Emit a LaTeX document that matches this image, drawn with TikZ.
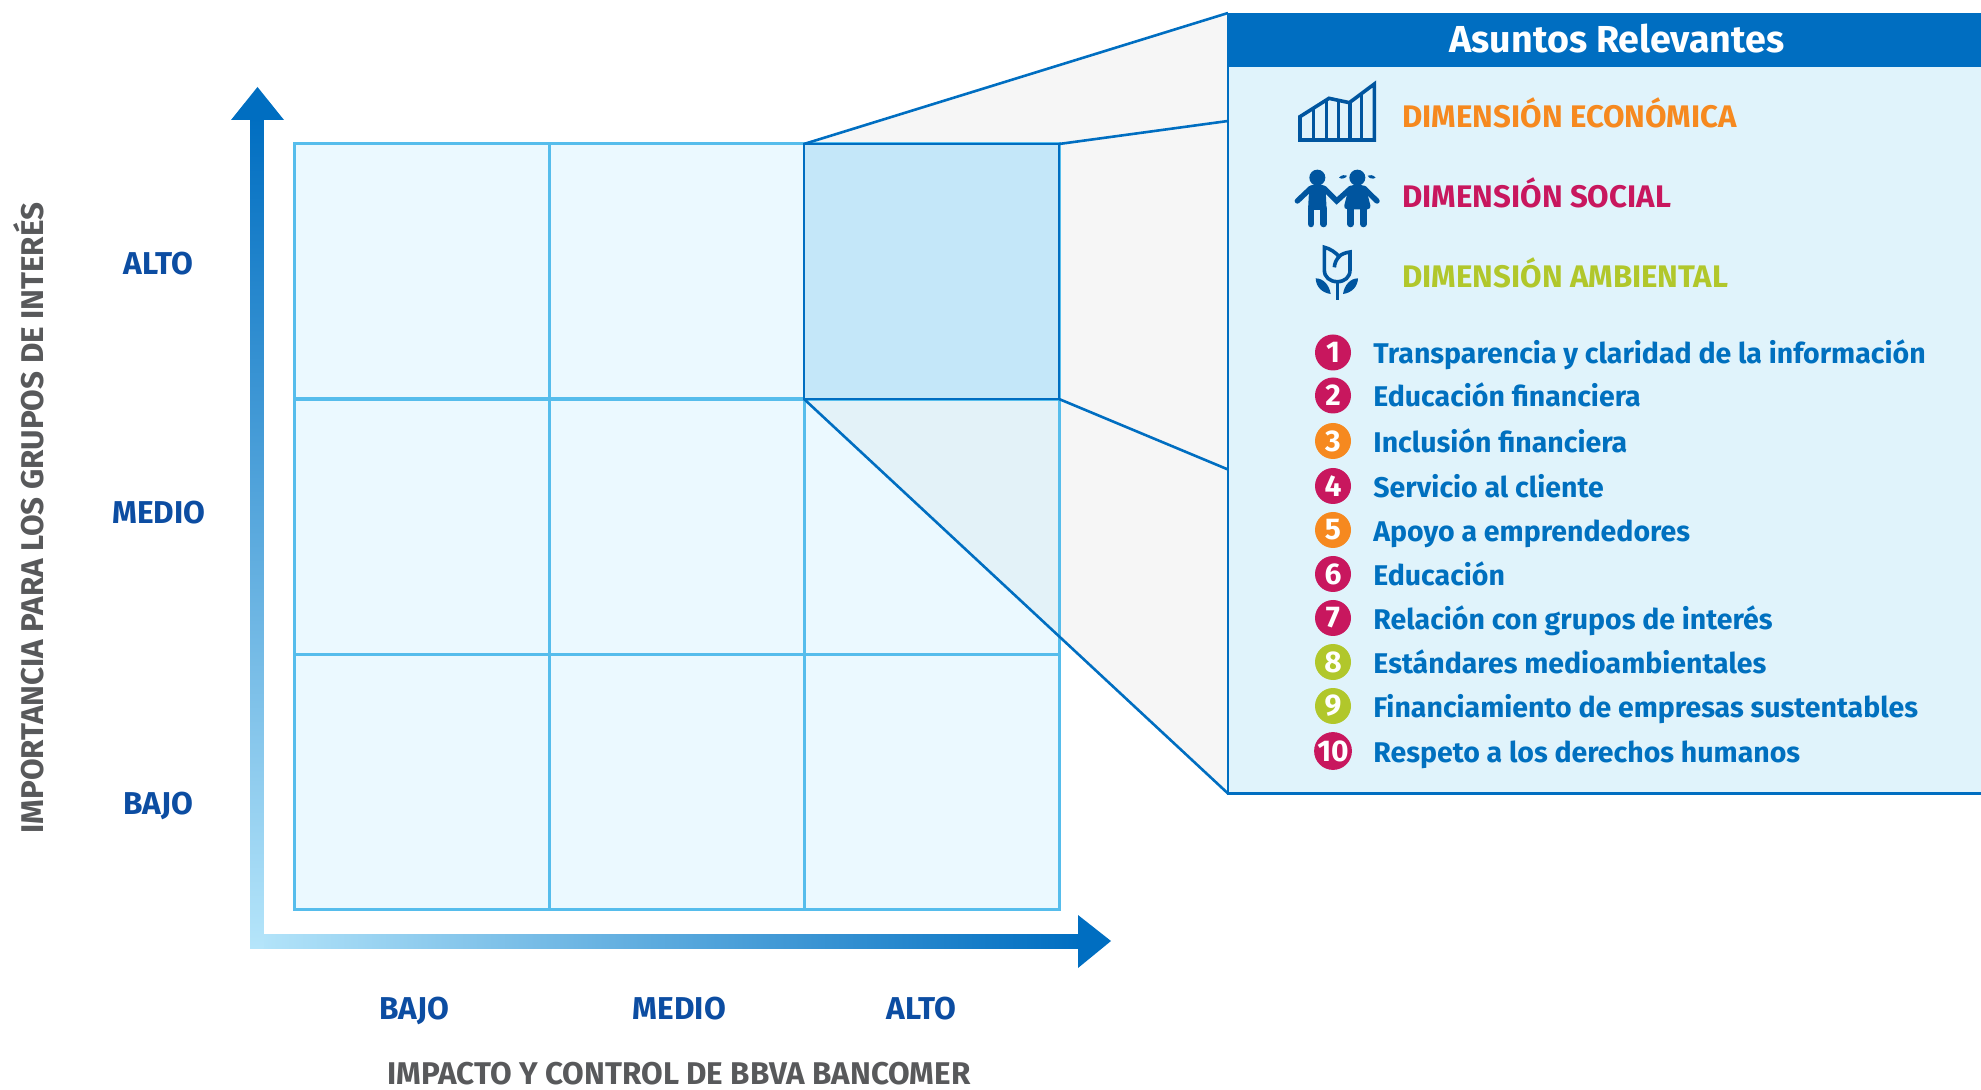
\documentclass[tikz,border=0pt]{standalone}
\usepackage{fontspec}
\setmainfont{Fira Sans}
\usetikzlibrary{calc}
\definecolor{gridline}{HTML}{56BDEC}
\definecolor{cellfill}{HTML}{EBF9FF}
\definecolor{cellhi}{HTML}{C4E7F9}
\definecolor{wedge}{HTML}{E3F2F8}
\definecolor{greyf}{HTML}{F6F6F6}
\definecolor{mainblue}{HTML}{006EC1}
\definecolor{lightblue}{HTML}{B5E5FA}
\definecolor{panelf}{HTML}{E0F3FB}
\definecolor{darkblue}{HTML}{0C4DA2}
\definecolor{iconblue}{HTML}{00559F}
\definecolor{listblue}{HTML}{0070BF}
\definecolor{axisgrey}{HTML}{58595B}
\definecolor{corange}{HTML}{F6891F}
\definecolor{cmagenta}{HTML}{C8175E}
\definecolor{cgreen}{HTML}{B1C72B}
\tikzset{
 cellbox/.style={fill=cellfill,minimum width=255*0.5pt,minimum height=255*0.5pt,inner sep=0pt,outer sep=0pt,anchor=north west},
 cellline/.style={draw=gridline,line width=1.5pt},
 funnel/.style={draw=mainblue,line width=1.3pt},
 axislabel/.style={font=\fontsize{15.8}{17}\selectfont\bfseries,text=darkblue,inner sep=0pt,anchor=base},
 axistitle/.style={font=\fontsize{15.7}{17}\selectfont\bfseries,text=axisgrey,inner sep=0pt,anchor=base},
 dimlabel/.style={font=\fontsize{15.6}{17}\selectfont\bfseries,inner sep=0pt,anchor=base west},
 itemlabel/.style={font=\fontsize{14.25}{16}\selectfont\bfseries,text=listblue,inner sep=0pt,anchor=base west},
 badge/.style={circle,minimum size=18pt,inner sep=0pt,text=white,font=\fontsize{15}{16}\selectfont\bfseries},
 iconline/.style={draw=iconblue,line width=1.8pt,line join=miter},
 iconlimb/.style={draw=iconblue,line cap=round},
}
\begin{document}
\begin{tikzpicture}[x=0.5pt,y=-0.5pt]
\useasboundingbox (0,0) rectangle (1981,1090);
% funnel backdrop
\coordinate (panelTL) at (1228,13);
\coordinate (panelBL) at (1228,793.5);
\coordinate (topA) at (1228,121);
\coordinate (botA) at (1228,469.5);
\coordinate (cross) at (1059,636);
\fill[greyf] (804,144) -- (panelTL) -- (panelBL) -- (cross) -- (1059,144) -- cycle;
% grid
\foreach \c/\x in {a/294,b/549,c/804}{
 \foreach \r/\y in {1/144,2/399.5,3/654.5}{
  \node[cellbox] (\c\r) at (\x,\y) {};
 }
}
\fill[wedge] (c2.north west) -- (c2.north east) -- (cross) -- cycle;
\foreach \c in {a,b,c}{
 \foreach \r in {1,2,3}{
  \draw[cellline] (\c\r.north west) rectangle (\c\r.south east);
 }
}
\node[cellbox,fill=cellhi,draw=mainblue,line width=1.3pt] (hi) at (804,144) {};
% funnel lines
\draw[funnel] (hi.north west) -- (panelTL);
\draw[funnel] (hi.north east) -- (topA);
\draw[funnel] (hi.south east) -- (botA);
\draw[funnel] (hi.south west) -- (panelBL);
% panel
\fill[panelf] (1228,13) rectangle (1981,793.5);
\draw[funnel] (1981,793.5) -- (panelBL) -- (panelTL);
\fill[mainblue] (1227,13) rectangle (1981,67);
\node[font=\fontsize{18.8}{20}\selectfont\bfseries,text=white,inner sep=0pt,anchor=base] (head) at (1617,53) {Asuntos Relevantes};
% axes
\fill[left color=lightblue,right color=mainblue] (250,934) rectangle (1079,948);
\fill[top color=mainblue,bottom color=lightblue] (250,118) rectangle (263.5,948);
\fill[mainblue] (257.5,87) -- (284,120) -- (231,120) -- cycle;
\fill[mainblue] (1111,941) -- (1078,968) -- (1078,915) -- cycle;
% axis labels
\node[axislabel] (yalto) at (158.5,275) {ALTO};
\node[axislabel] (ymedio) at (159,524) {MEDIO};
\node[axislabel] (ybajo) at (158.5,814) {BAJO};
\node[axislabel] (xbajo) at (414,1019) {BAJO};
\node[axislabel] (xmedio) at (679.5,1019) {MEDIO};
\node[axislabel] (xalto) at (921.5,1019) {ALTO};
\node[axistitle] (xtitle) at (679,1084) {IMPACTO Y CONTROL DE BBVA BANCOMER};
\node[axistitle,rotate=90] (ytitle) at (43,518) {IMPORTANCIA PARA LOS GRUPOS DE INTERÉS};
% dimensions
\node[dimlabel,text=corange] (d1) at (1402,128) {DIMENSIÓN ECONÓMICA};
\node[dimlabel,text=cmagenta] (d2) at (1402,208) {DIMENSIÓN SOCIAL};
\node[dimlabel,text=cgreen] (d3) at (1402,288) {DIMENSIÓN AMBIENTAL};
% chart icon
\begin{scope}[shift={(1280,70)},x=0.16667pt,y=-0.16667pt]
\draw[iconline] (60,210) -- (60,140) -- (147,85) -- (208,98) -- (283,42) -- (283,210) -- cycle;
\foreach \x/\y in {100/118,140/87,175/92,210/98,245/70}{\draw[iconline] (\x,\y) -- (\x,210);}
\end{scope}
% children icon
\begin{scope}[shift={(1280,70)},x=0.16667pt,y=-0.16667pt]
\fill[iconblue] (112,323) circle[radius=24];
\fill[iconblue] (232,323) circle[radius=24];
\fill[iconblue,rounded corners=1.5pt] (88,345) -- (136,345) -- (140,420) -- (84,420) -- cycle;
\fill[iconblue,rounded corners=2pt] (208,345) -- (256,345) -- (274,418) -- (190,418) -- cycle;
\draw[iconlimb,line width=2.7pt] (92,355) -- (52,393);
\draw[iconlimb,line width=2.7pt] (132,355) -- (170,393) -- (212,355);
\draw[iconlimb,line width=2.7pt] (252,355) -- (291,393);
\draw[iconlimb,line width=3.3pt] (93,415) -- (93,462);
\draw[iconlimb,line width=3.3pt] (131,415) -- (131,462);
\draw[iconlimb,line width=3.3pt] (212,415) -- (212,462);
\draw[iconlimb,line width=3.3pt] (250,415) -- (250,462);
\fill[iconblue] (177,323) .. controls (185,314) and (195,314) .. (201,317) .. controls (198,325) and (185,329) .. cycle;
\fill[iconblue] (287,323) .. controls (279,314) and (269,314) .. (263,317) .. controls (266,325) and (279,329) .. cycle;
\end{scope}
% tulip icon
\begin{scope}[shift={(1280,70)},x=0.16667pt,y=-0.16667pt]
\draw[iconline] (133,532) -- (133,600) .. controls (133,622) and (150,635) .. (172,635) .. controls (194,635) and (210,622) .. (210,600) -- (210,546) .. controls (195,548) and (183,553) .. (177,560) .. controls (170,550) and (150,535) .. (133,532) -- cycle;
\draw[iconline] (177,560) .. controls (168,570) and (164,580) .. (163,592);
\draw[iconline] (172,635) -- (172,690);
\fill[iconblue] (107,625) .. controls (130,625) and (148,645) .. (152,672) .. controls (125,668) and (108,650) .. (107,625) -- cycle;
\fill[iconblue] (234,625) .. controls (211,625) and (193,645) .. (189,672) .. controls (216,668) and (233,650) .. (234,625) -- cycle;
\end{scope}
% list
\foreach \n/\y/\col/\txt in {
 1/352.5/cmagenta/Transparencia y claridad de la información,
 2/395.5/cmagenta/Educación financiera,
 3/441/corange/Inclusión financiera,
 4/486/cmagenta/Servicio al cliente,
 5/530/corange/Apoyo a emprendedores,
 6/574/cmagenta/Educación,
 7/618/cmagenta/Relación con grupos de interés,
 8/662/cgreen/Estándares medioambientales,
 9/706/cgreen/Financiamiento de empresas sustentables,
 10/751/cmagenta/Respeto a los derechos humanos}{
 \node[badge,fill=\col] (b\n) at (1333,\y) {\n};
 \node[itemlabel] (t\n) at ($(1373,\y)+(0,11.5)$) {\txt};
}
\end{tikzpicture}
\end{document}
